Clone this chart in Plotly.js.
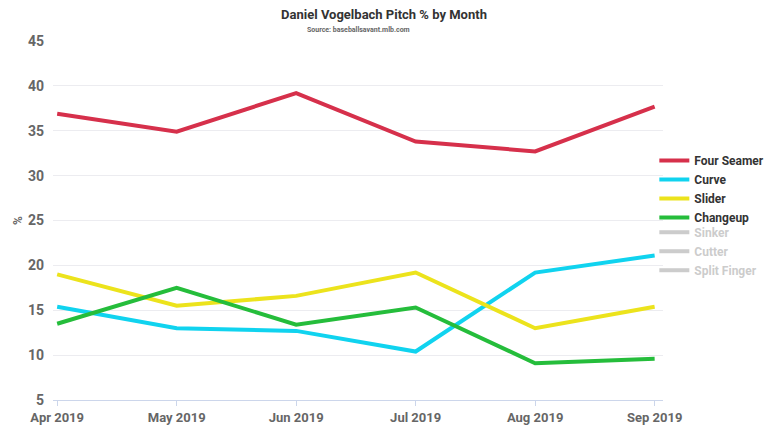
<!DOCTYPE html>
<html>
<head>
<meta charset="utf-8">
<script src="https://cdn.plot.ly/plotly-3.0.1.min.js"></script>
<style>
  html, body { margin: 0; padding: 0; background: #ffffff; }
  #chart { width: 768px; height: 432px; }
</style>
</head>
<body>
<div id="chart"></div>
<script>
var months = ['Apr 2019', 'May 2019', 'Jun 2019', 'Jul 2019', 'Aug 2019', 'Sep 2019'];

var fourSeamer = [36.9, 34.9, 39.2, 33.8, 32.7, 37.7];
var curve = [15.4, 13.0, 12.7, 10.4, 19.2, 21.1];
var slider = [19.0, 15.5, 16.6, 19.2, 13.0, 15.4];
var changeup = [13.5, 17.5, 13.4, 15.3, 9.1, 9.6];

var shownNames = ['Four Seamer', 'Curve', 'Slider', 'Changeup'];
var shownValues = [fourSeamer, curve, slider, changeup];
var shownColors = ['#d6304b', '#10d3ef', '#ece31c', '#25bd3b'];

// hidden series: switched off in the reference, values not shown
var hiddenNames = ['Sinker', 'Cutter', 'Split Finger'];
var hiddenValues = [null, null, null, null, null, null];

var font = 'Roboto, "Open Sans", sans-serif';

var data = [];
shownNames.forEach(function (name, i) {
  data.push({
    x: months,
    y: shownValues[i],
    name: name,
    type: 'scatter',
    mode: 'lines',
    line: {color: shownColors[i], width: 4},
    legend: 'legend'
  });
});
hiddenNames.forEach(function (name) {
  data.push({
    x: months,
    y: hiddenValues,
    name: name,
    type: 'scatter',
    mode: 'lines',
    visible: 'legendonly',
    line: {color: '#999999', width: 4},
    legend: 'legend2'
  });
});

var layout = {
  width: 768,
  height: 432,
  margin: {l: 53, r: 105, t: 41, b: 32, autoexpand: false},
  paper_bgcolor: '#ffffff',
  plot_bgcolor: '#ffffff',
  font: {family: font, color: '#666666'},
  showlegend: true,
  title: {
    text: '<b>Daniel Vogelbach Pitch % by Month</b>',
    font: {family: font, size: 13, color: '#333333'},
    x: 0.5, xanchor: 'center',
    y: 0.967, yanchor: 'middle'
  },
  annotations: [{
    text: '<b>Source: baseballsavant.mlb.com</b>',
    xref: 'paper', yref: 'paper',
    x: 0.5, y: 1, xanchor: 'center', yanchor: 'bottom',
    yshift: 5,
    showarrow: false,
    font: {family: font, size: 7, color: '#666666'}
  }],
  xaxis: {
    type: 'category',
    range: [-0.035, 5.07],
    showgrid: false,
    zeroline: false,
    showline: true,
    linecolor: '#ccd6eb',
    linewidth: 1,
    ticks: 'outside',
    ticklen: 5,
    tickcolor: '#ccd6eb',
    tickfont: {family: font, size: 13, color: '#666666', weight: 'bold'},
    fixedrange: true
  },
  yaxis: {
    range: [5, 45],
    dtick: 5,
    showgrid: true,
    gridcolor: '#ececf0',
    gridwidth: 1,
    zeroline: false,
    showline: false,
    ticks: '',
    ticklabelstandoff: 8,
    tickfont: {family: font, size: 14, color: '#666666', weight: 'bold'},
    title: {
      text: '<b>%</b>',
      font: {family: font, size: 12, color: '#666666'},
      standoff: 2
    }
  },
  legend: {
    xref: 'container', yref: 'container',
    x: 0.852, xanchor: 'left',
    y: 0.662, yanchor: 'top',
    bgcolor: 'rgba(0,0,0,0)',
    itemwidth: 30,
    tracegroupgap: 0,
    font: {family: font, size: 12, color: '#333333', weight: 'bold'}
  },
  legend2: {
    xref: 'container', yref: 'container',
    x: 0.852, xanchor: 'left',
    y: 0.496, yanchor: 'top',
    bgcolor: 'rgba(0,0,0,0)',
    itemwidth: 30,
    tracegroupgap: 0,
    font: {family: font, size: 12, color: '#999999', weight: 'bold'}
  }
};

Plotly.newPlot('chart', data, layout, {displayModeBar: false, staticPlot: true});
</script>
</body>
</html>
